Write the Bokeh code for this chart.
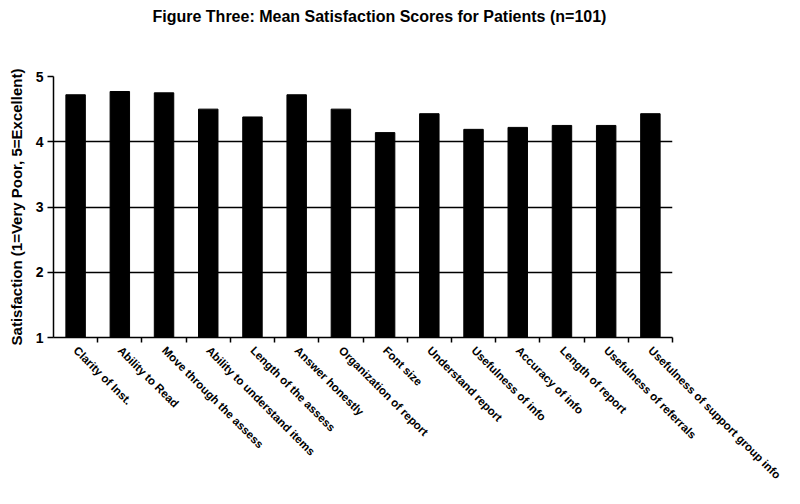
from bokeh.plotting import figure
from bokeh.models import Range1d, FixedTicker, Title
from bokeh.embed import file_html
from bokeh.resources import INLINE

title_text = "Figure Three:  Mean Satisfaction Scores for Patients (n=101)"
categories = [
    "Clarity of Inst.", "Ability to Read", "Move through the assess",
    "Ability to understand items", "Length of the assess", "Answer honestly",
    "Organization of report", "Font size", "Understand report",
    "Usefulness of info", "Accuracy of info", "Length of report",
    "Usefulness of referrals", "Usefulness of support group info",
]
scores = [4.72, 4.77, 4.75, 4.50, 4.38, 4.72, 4.50, 4.14, 4.43, 4.19, 4.22, 4.25, 4.25, 4.43]
y_ticks = [1, 2, 3, 4, 5]

FONT = "Liberation Sans"
n = len(categories)
centers = [i + 0.5 for i in range(n)]

p = figure(width=784, height=488, output_backend="svg", toolbar_location=None, title=None,
           x_range=Range1d(0, n), y_range=Range1d(1, 5),
           min_border_left=53, min_border_right=112, min_border_top=76, min_border_bottom=149)
p.outline_line_color = None
p.background_fill_color = "white"

# spacer between frame and title (closest to frame), then the chart title
p.add_layout(Title(text=" ", text_font_size="2px", standoff=45), "above")
p.add_layout(Title(text=title_text, align="left", offset=99, standoff=6, text_font=FONT,
                   text_font_size="16px", text_font_style="bold", text_color="black"), "above")

p.vbar(x=centers, top=scores, bottom=1, width=0.44, fill_color="black", line_color="black")

# grid
p.xgrid.grid_line_color = None
p.ygrid.ticker = FixedTicker(ticks=y_ticks)
p.ygrid.grid_line_color = "black"
p.ygrid.grid_line_width = 1.5
p.ygrid.level = "underlay"

# x axis
xa = p.xaxis[0]
xa.ticker = FixedTicker(ticks=centers, minor_ticks=list(range(1, n + 1)))
xa.major_label_overrides = {c: lab for c, lab in zip(centers, categories)}
xa.major_label_orientation = -0.7854
xa.major_tick_out = 0
xa.major_tick_in = 0
xa.minor_tick_out = 5
xa.minor_tick_in = 0
xa.minor_tick_line_color = "black"
xa.minor_tick_line_width = 1.5
xa.axis_line_color = "black"
xa.axis_line_width = 1.5
xa.major_label_standoff = 6
xa.major_label_text_font = FONT
xa.major_label_text_font_size = "11.5px"
xa.major_label_text_font_style = "bold"
xa.major_label_text_color = "black"

# y axis
ya = p.yaxis[0]
ya.ticker = FixedTicker(ticks=y_ticks)
ya.axis_label = "Satisfaction (1=Very Poor, 5=Excellent)"
ya.axis_label_text_font = FONT
ya.axis_label_text_font_size = "15px"
ya.axis_label_text_font_style = "bold"
ya.axis_label_text_color = "black"
ya.axis_label_standoff = 8
ya.major_label_text_font = FONT
ya.major_label_text_font_size = "14px"
ya.major_label_text_font_style = "bold"
ya.major_label_text_color = "black"
ya.major_label_standoff = 4
ya.major_tick_out = 6
ya.major_tick_in = 0
ya.minor_tick_out = 0
ya.minor_tick_in = 0
ya.major_tick_line_color = "black"
ya.major_tick_line_width = 1.5
ya.axis_line_color = "black"
ya.axis_line_width = 1.5

open("out.html", "w").write(file_html(p, INLINE))
